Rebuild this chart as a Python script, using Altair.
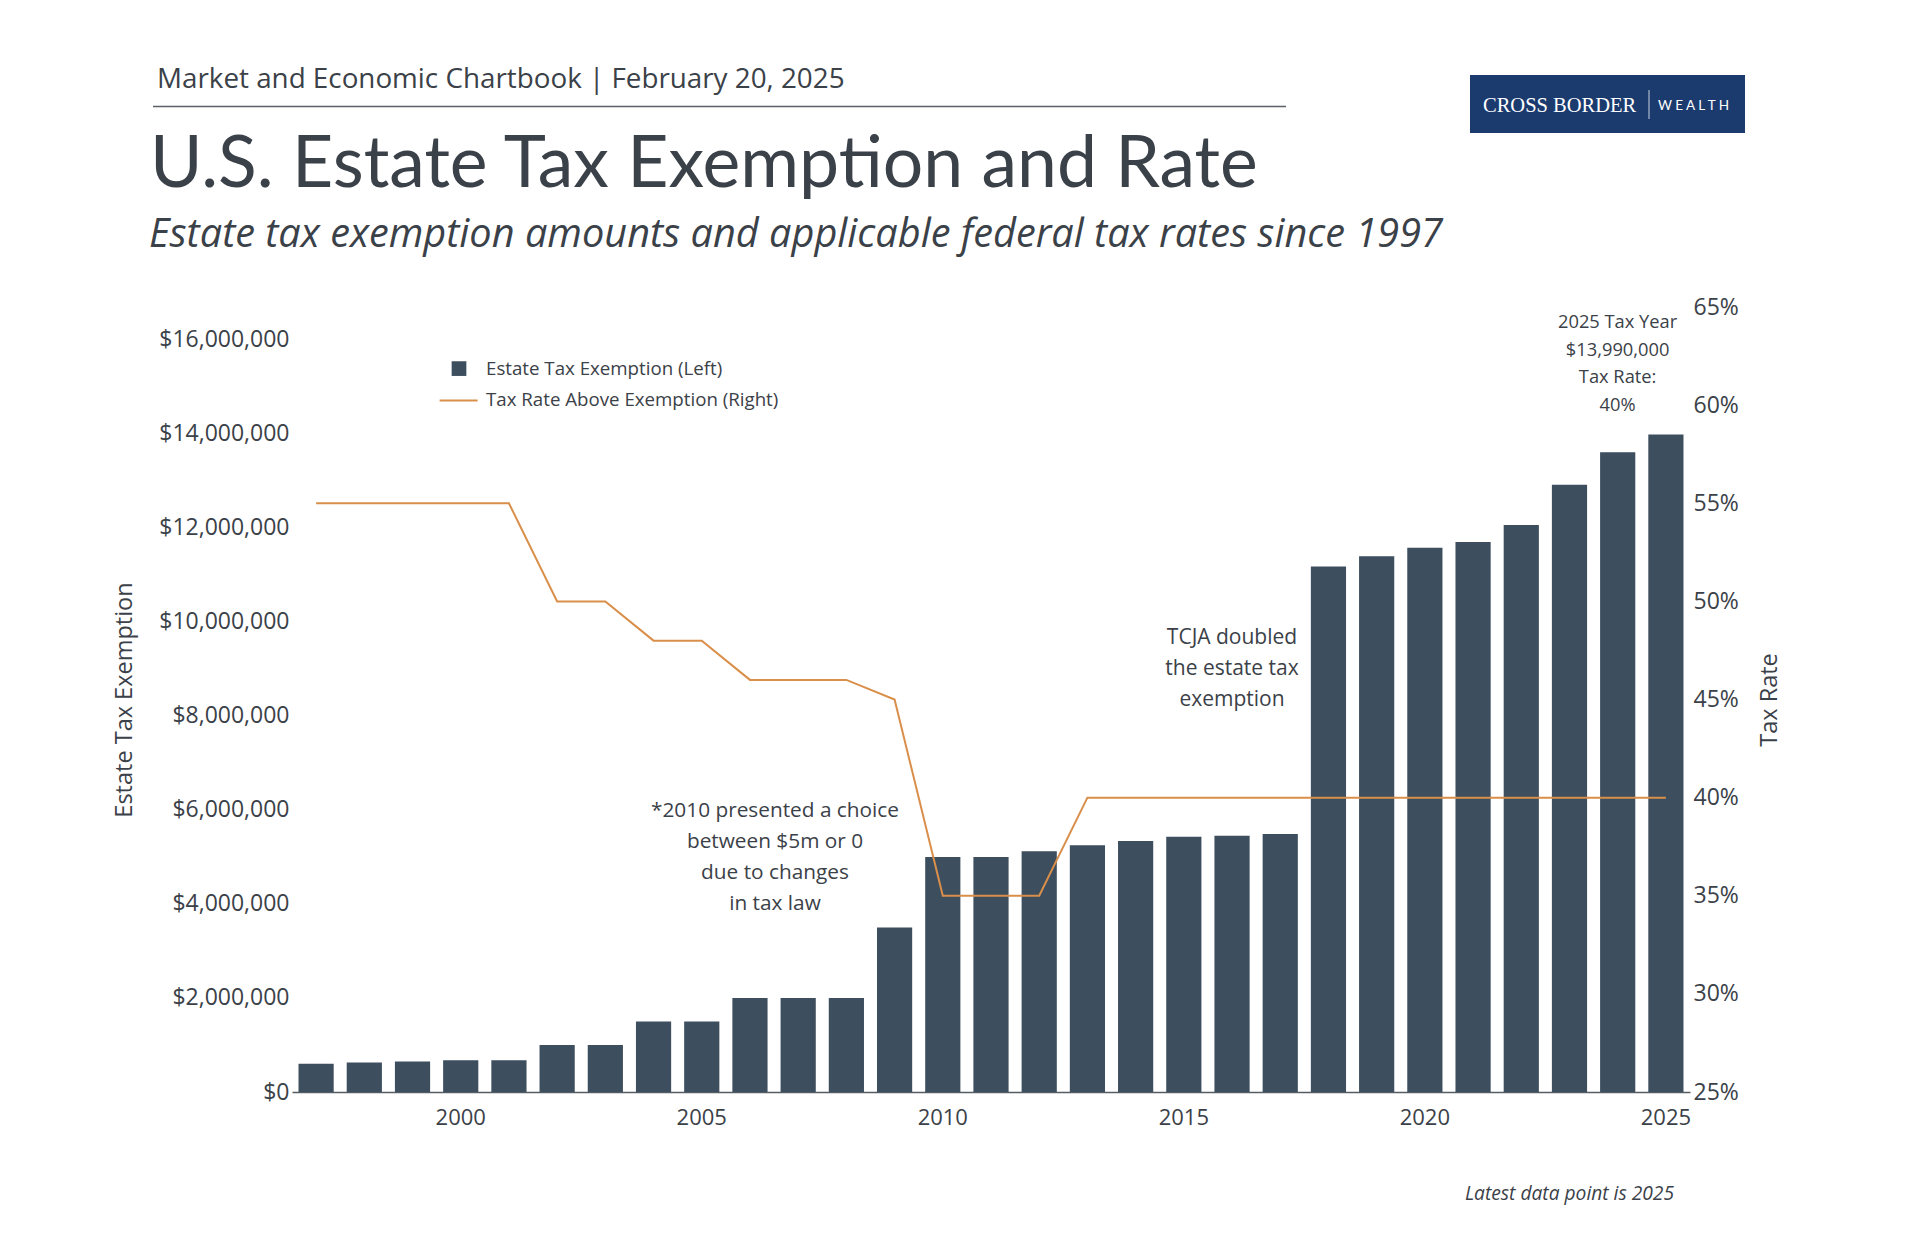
import altair as alt
import pandas as pd

years = list(range(1997, 2026))
exemption = [600000, 625000, 650000, 675000, 675000, 1000000, 1000000, 1500000,
             1500000, 2000000, 2000000, 2000000, 3500000, 5000000, 5000000, 5120000,
             5250000, 5340000, 5430000, 5450000, 5490000, 11180000, 11400000,
             11580000, 11700000, 12060000, 12920000, 13610000, 13990000]
tax_rate = [0.55, 0.55, 0.55, 0.55, 0.55, 0.50, 0.50, 0.48, 0.48, 0.46, 0.46,
            0.46, 0.45, 0.35, 0.35, 0.35, 0.40, 0.40, 0.40, 0.40, 0.40, 0.40,
            0.40, 0.40, 0.40, 0.40, 0.40, 0.40, 0.40]
x_tick_years = [2000, 2005, 2010, 2015, 2020, 2025]
left_ticks = [0, 2000000, 4000000, 6000000, 8000000, 10000000, 12000000, 14000000, 16000000]
right_ticks = [0.25, 0.30, 0.35, 0.40, 0.45, 0.50, 0.55, 0.60, 0.65]

df = pd.DataFrame({"year": years, "exemption": exemption, "rate": tax_rate})
one = pd.DataFrame({"k": [0]})

W, H = 1398, 785
BAR = "#3d4e5e"
LINE = "#d98f4a"
TXT = "#3b4148"
NAVY = "#1b3b6f"
LBL_FONT = "Open Sans"

x_enc = alt.X(
    "year:O",
    scale=alt.Scale(paddingInner=0.27, paddingOuter=0.135),
    axis=alt.Axis(values=x_tick_years, labelAngle=0, title=None, ticks=False,
                  domain=True, domainColor="#555c63", domainWidth=1.5,
                  labelFont=LBL_FONT, labelFontSize=22, labelColor=TXT,
                  labelPadding=15, grid=False),
)

bars = alt.Chart(df).mark_bar(color=BAR).encode(
    x=x_enc,
    y=alt.Y("exemption:Q",
            scale=alt.Scale(domain=[0, 16700000], nice=False, zero=True),
            axis=alt.Axis(values=left_ticks, format="$,.0f", title="Estate Tax Exemption",
                          ticks=False, domain=False, grid=False,
                          labelFont=LBL_FONT, labelFontSize=23, labelColor=TXT,
                          labelPadding=3,
                          titleFont=LBL_FONT, titleFontSize=23.5, titleFontWeight="normal",
                          titleColor=TXT, titleX=-168, titleY=H / 2, titleAngle=270,
                          titleAlign="center", titleBaseline="middle")),
)

line = alt.Chart(df).mark_line(color=LINE, strokeWidth=2).encode(
    x=x_enc,
    y=alt.Y("rate:Q",
            scale=alt.Scale(domain=[0.25, 0.65], nice=False, zero=False),
            axis=alt.Axis(orient="right", values=right_ticks, format=".0%", title="Tax Rate",
                          ticks=False, domain=False, grid=False,
                          labelFont=LBL_FONT, labelFontSize=23, labelColor=TXT,
                          labelPadding=3,
                          titleFont=LBL_FONT, titleFontSize=23.5, titleFontWeight="normal",
                          titleColor=TXT, titleX=79, titleY=H / 2, titleAngle=270,
                          titleAlign="center", titleBaseline="middle")),
)


def txt(lines, x, y, size, align="center", baseline="middle", font=LBL_FONT,
        style="normal", color=TXT, lh=None, weight="normal"):
    kw = dict(text=lines, align=align, baseline=baseline, font=font, fontSize=size,
              fontStyle=style, color=color, fontWeight=weight)
    if lh is not None:
        kw["lineHeight"] = lh
    return alt.Chart(one).mark_text(**kw).encode(x=alt.value(x), y=alt.value(y))


layers = [bars, line]

# header
layers.append(txt("Market and Economic Chartbook | February 20, 2025", -135, -219, 27.8,
                  align="left", baseline="alphabetic", font="Open Sans"))
layers.append(alt.Chart(one).mark_rule(color="#5a6068", strokeWidth=1.3).encode(
    x=alt.value(-139), x2=alt.value(994), y=alt.value(-200.5)))
layers.append(txt("U.S. Estate Tax Exemption and Rate", -142, -120, 71.5,
                  align="left", baseline="alphabetic", font="Lato"))
layers.append(txt("Estate tax exemption amounts and applicable federal tax rates since 1997",
                  -143, -60, 39.7, align="left", baseline="alphabetic", font="Open Sans",
                  style="italic"))

# logo
layers.append(alt.Chart(one).mark_rect(color=NAVY).encode(
    x=alt.value(1178), x2=alt.value(1453), y=alt.value(-232), y2=alt.value(-174)))
layers.append(txt("CROSS BORDER", 1191, -195, 20.5, align="left", baseline="alphabetic",
                  font="Liberation Serif", color="#ffffff"))
layers.append(alt.Chart(one).mark_rule(color="#c9d2e0", strokeWidth=1).encode(
    x=alt.value(1357), y=alt.value(-217), y2=alt.value(-188)))
layers.append(txt("W E A L T H", 1366, -197, 13.5, align="left", baseline="alphabetic",
                  font="Lato", color="#ffffff"))

# legend
layers.append(alt.Chart(one).mark_square(color=BAR, size=216, opacity=1).encode(
    x=alt.value(167), y=alt.value(61.6)))
layers.append(alt.Chart(one).mark_rule(color=LINE, strokeWidth=2).encode(
    x=alt.value(147.6), x2=alt.value(185.6), y=alt.value(93.4)))
layers.append(txt("Estate Tax Exemption (Left)", 194, 61.6, 18.7, align="left"))
layers.append(txt("Tax Rate Above Exemption (Right)", 194, 93.4, 18.7, align="left"))

# annotations
layers.append(txt(["*2010 presented a choice", "between $5m or 0", "due to changes", "in tax law"],
                  483, 503.6, 20.8, baseline="middle", lh=31))
layers.append(txt(["TCJA doubled", "the estate tax", "exemption"], 940, 331, 21, lh=31))
layers.append(txt(["2025 Tax Year", "$13,990,000", "Tax Rate:", "40%"], 1325.6, 16.3, 18.3,
                  lh=27.5))

# footer
layers.append(txt("Latest data point is 2025", 1382, 887, 19.2, align="right", style="italic",
                  font="Open Sans"))

chart = alt.layer(*layers).resolve_scale(y="independent").properties(
    width=W, height=H,
    background="#ffffff",
    autosize=alt.AutoSizeParams(type="none"),
    padding={"left": 284, "top": 299, "right": 210, "bottom": 130},
).configure_view(strokeWidth=0)

chart.save("out.html", embed_options={"renderer": "svg", "actions": False})
